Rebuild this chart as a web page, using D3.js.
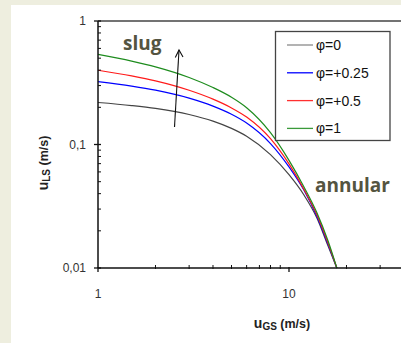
<!DOCTYPE html>
<html><head><meta charset="utf-8">
<script src="https://cdnjs.cloudflare.com/ajax/libs/d3/7.8.5/d3.min.js"></script>
<style>
html,body{margin:0;padding:0;background:#eeeedf;}
svg{display:block;}
</style></head>
<body>
<svg id="chart" width="401" height="343"></svg>
<script>
// ---- data ----
const ugs = [1, 1.5, 2, 3, 4, 5, 6, 8, 10, 12, 14, 16, 17.8];
const seriesNames = ["φ=0", "φ=+0.25", "φ=+0.5", "φ=1"];
const uls_phi0   = [0.2188, 0.2068, 0.1961, 0.1749, 0.1545, 0.1350, 0.1165, 0.0828, 0.0569, 0.0388, 0.0254, 0.0151, 0.01];
const uls_phi025 = [0.3225, 0.2970, 0.2756, 0.2375, 0.2046, 0.1757, 0.1492, 0.1018, 0.0659, 0.0424, 0.0262, 0.0156, 0.01];
const uls_phi05  = [0.399, 0.3592, 0.3276, 0.2749, 0.2329, 0.1978, 0.1668, 0.1114, 0.0696, 0.0431, 0.0270, 0.0160, 0.01];
const uls_phi1   = [0.537, 0.4736, 0.4256, 0.3489, 0.2893, 0.2414, 0.1986, 0.1247, 0.0744, 0.0451, 0.0280, 0.0166, 0.01];
const xTickLabels = ["1", "10"];
const yTickLabels = ["0,01", "0,1", "1"];

const seriesValues = [uls_phi0, uls_phi025, uls_phi05, uls_phi1];
const lineColors = ["#444444", "#0000ff", "#ff1a1a", "#1e8c1e"];
const legendColors = ["#8a8a8a", "#0000ff", "#ff3030", "#3a9a3a"];

const svg = d3.select("#chart");
// white panel
svg.append("rect").attr("x", 11).attr("y", 5).attr("width", 390).attr("height", 338).attr("fill", "#ffffff");

const x = d3.scaleLog().domain([1, 100]).range([98, 480]);
const y = d3.scaleLog().domain([0.01, 1]).range([268, 21]);

const g = svg.append("g");

// top border
g.append("line").attr("x1", 98).attr("x2", 401).attr("y1", y(1)).attr("y2", y(1))
  .attr("stroke", "#444").attr("stroke-width", 1.3);

// curves
const line = d3.line().x(d => x(d[0])).y(d => y(d[1])).curve(d3.curveMonotoneX);
seriesValues.forEach((vals, i) => {
  g.append("path").datum(ugs.map((u, j) => [u, vals[j]]))
    .attr("d", line).attr("fill", "none").attr("stroke", lineColors[i]).attr("stroke-width", 1.2);
});

// axes
const yMajors = [0.01, 0.1, 1];
const yMinors = [];
[0.01, 0.1].forEach(b => { for (let k = 2; k <= 9; k++) yMinors.push(b * k); });
const xMajors = [1, 10];
const xMinors = [];
[1, 10].forEach(b => { for (let k = 2; k <= 9; k++) xMinors.push(b * k); });

// y axis
const yAxis = g.append("g").attr("transform", "translate(98,0)");
yAxis.append("line").attr("y1", y(1)).attr("y2", y(0.01)).attr("stroke", "#111").attr("stroke-width", 1.5);
yAxis.selectAll(".ymaj").data(yMajors).enter().append("line")
  .attr("x1", -4).attr("x2", 3).attr("y1", d => y(d)).attr("y2", d => y(d)).attr("stroke", "#111").attr("stroke-width", 1.3);
yAxis.selectAll(".ymin").data(yMinors).enter().append("line")
  .attr("x1", 0).attr("x2", 3).attr("y1", d => y(d)).attr("y2", d => y(d)).attr("stroke", "#111").attr("stroke-width", 1);
yAxis.selectAll(".ylab").data(yMajors).enter().append("text")
  .attr("x", -12).attr("y", d => y(d)).attr("dy", "0.35em").attr("text-anchor", "end")
  .attr("font-family", "Liberation Sans, Arial, sans-serif").attr("font-size", 12).attr("fill", "#333")
  .text((d, i) => yTickLabels[i]);

// x axis
const xAxis = g.append("g").attr("transform", "translate(0,268)");
xAxis.append("line").attr("x1", 98).attr("x2", 401).attr("stroke", "#111").attr("stroke-width", 1.5);
xAxis.selectAll(".xmaj").data(xMajors).enter().append("line")
  .attr("x1", d => x(d)).attr("x2", d => x(d)).attr("y1", -1).attr("y2", 4).attr("stroke", "#111").attr("stroke-width", 1.3);
xAxis.selectAll(".xmin").data(xMinors).enter().append("line")
  .attr("x1", d => x(d)).attr("x2", d => x(d)).attr("y1", -3).attr("y2", 1).attr("stroke", "#111").attr("stroke-width", 1);
xAxis.selectAll(".xlab").data(xMajors).enter().append("text")
  .attr("x", d => x(d)).attr("y", 30).attr("text-anchor", "middle")
  .attr("font-family", "Liberation Sans, Arial, sans-serif").attr("font-size", 12).attr("fill", "#333")
  .text((d, i) => xTickLabels[i]);

// axis titles
const xt = svg.append("text").attr("x", 282).attr("y", 328).attr("text-anchor", "middle")
  .attr("font-family", "Liberation Sans, Arial, sans-serif").attr("font-weight", "bold").attr("fill", "#222");
xt.append("tspan").attr("font-size", 14).text("u");
xt.append("tspan").attr("font-size", 10).attr("dy", 2).text("GS");
xt.append("tspan").attr("font-size", 12.5).attr("dy", -2).text(" (m/s)");

const yt = svg.append("text").attr("transform", "translate(48,163) rotate(-90)").attr("text-anchor", "middle")
  .attr("font-family", "Liberation Sans, Arial, sans-serif").attr("font-weight", "bold").attr("fill", "#222");
yt.append("tspan").attr("font-size", 14).text("u");
yt.append("tspan").attr("font-size", 10).attr("dy", 2).text("LS");
yt.append("tspan").attr("font-size", 12.5).attr("dy", -2).text(" (m/s)");

// annotations
svg.append("text").attr("x", 123).attr("y", 50).attr("font-family", "Open Sans, sans-serif")
  .attr("font-weight", "bold").attr("font-size", 19).attr("fill", "#545440").text("slug");
svg.append("text").attr("x", 315).attr("y", 192).attr("font-family", "Open Sans, sans-serif")
  .attr("font-weight", "bold").attr("font-size", 19).attr("fill", "#545440").text("annular");

// arrow
svg.append("line").attr("x1", 174.5).attr("y1", 127).attr("x2", 179).attr("y2", 50)
  .attr("stroke", "#111").attr("stroke-width", 1.1);
svg.append("path").attr("d", "M175.3,57.5 L179,50 L183,57")
  .attr("fill", "none").attr("stroke", "#111").attr("stroke-width", 1.1);

// legend
const lg = svg.append("g");
lg.append("rect").attr("x", 275.5).attr("y", 31.5).attr("width", 114.5).attr("height", 109)
  .attr("fill", "#fff").attr("stroke", "#444").attr("stroke-width", 1.3);
seriesNames.forEach((name, i) => {
  const yy = 45 + i * 27.8;
  lg.append("line").attr("x1", 287).attr("x2", 313).attr("y1", yy).attr("y2", yy)
    .attr("stroke", legendColors[i]).attr("stroke-width", 1.3);
  lg.append("text").attr("x", 316).attr("y", yy).attr("dy", "0.36em")
    .attr("font-family", "Liberation Sans, Arial, sans-serif").attr("font-size", 14).attr("fill", "#111").text(name);
});
</script>
</body></html>
